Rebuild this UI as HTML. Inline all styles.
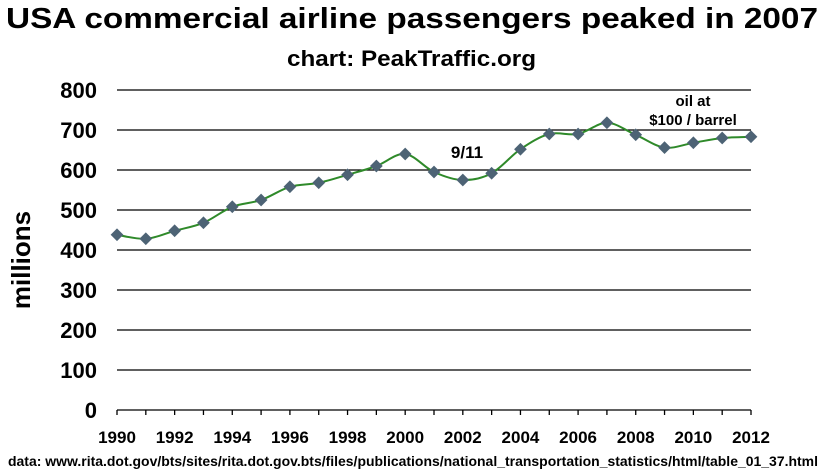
<!DOCTYPE html>
<html><head><meta charset="utf-8"><style>
body{margin:0;background:#fff;width:823px;height:471px;overflow:hidden;font-family:"Liberation Sans",Arial,sans-serif}
</style></head><body>
<svg id="s" width="823" height="471" xmlns="http://www.w3.org/2000/svg" font-family="Liberation Sans, Arial, sans-serif" font-weight="bold">
<text x="6" y="28" font-size="29" textLength="812" lengthAdjust="spacingAndGlyphs">USA commercial airline passengers peaked in 2007</text>
<text x="287" y="66" font-size="22" textLength="249" lengthAdjust="spacingAndGlyphs">chart: PeakTraffic.org</text>
<text transform="translate(30,260) rotate(-90)" text-anchor="middle" font-size="26">millions</text>
<g id="grid" stroke="#000" stroke-width="1.3"></g>
<g id="ylab" font-size="22" text-anchor="end"></g>
<g id="xlab" font-size="17" text-anchor="middle"></g>
<path id="curve" fill="none" stroke="#2f8a2a" stroke-width="2"/>
<g id="pts" fill="#4d6375"></g>
<text x="467" y="158" text-anchor="middle" font-size="17">9/11</text>
<text x="693" y="106" text-anchor="middle" font-size="15">oil at</text>
<text x="693" y="125" text-anchor="middle" font-size="15">$100 / barrel</text>
<text x="8" y="466" font-size="13.5" textLength="810" lengthAdjust="spacingAndGlyphs">data: www.rita.dot.gov/bts/sites/rita.dot.gov.bts/files/publications/national_transportation_statistics/html/table_01_37.html</text>
</svg>
<script>
var ns="http://www.w3.org/2000/svg";
function el(p,t,a,txt){var e=document.createElementNS(ns,t);for(var k in a)e.setAttribute(k,a[k]);if(txt)e.textContent=txt;document.getElementById(p).appendChild(e);return e;}
var x0=117,x1=751,dx=(x1-x0)/22;
function Y(v){return 410-v*0.4;}
for(var v=0;v<=800;v+=100){
 el("grid","line",{x1:x0,x2:x1,y1:Y(v),y2:Y(v)});
 el("ylab","text",{x:97,y:Y(v)+8},String(v));
}
for(var i=0;i<=22;i++){el("grid","line",{x1:x0+i*dx,x2:x0+i*dx,y1:410,y2:415});
 if(i%2==0)el("xlab","text",{x:x0+i*dx,y:443},String(1990+i));}
var d=[438,428,448,468,508,525,558,568,588,610,640,595,575,592,652,690,690,718,688,656,668,680,683];
var P=d.map(function(v,i){return [x0+i*dx,Y(v)];});
var s="M"+P[0][0]+","+P[0][1];
for(var i=0;i<P.length-1;i++){
 var p0=P[Math.max(i-1,0)],p1=P[i],p2=P[i+1],p3=P[Math.min(i+2,P.length-1)];
 var c1=[p1[0]+(p2[0]-p0[0])/6,p1[1]+(p2[1]-p0[1])/6],c2=[p2[0]-(p3[0]-p1[0])/6,p2[1]-(p3[1]-p1[1])/6];
 s+=" C"+c1+" "+c2+" "+p2;
}
document.getElementById("curve").setAttribute("d",s);
P.forEach(function(p){el("pts","rect",{x:p[0]-4.5,y:p[1]-4.5,width:9,height:9,transform:"rotate(45 "+p[0]+" "+p[1]+")"});});
</script>
</body></html>
